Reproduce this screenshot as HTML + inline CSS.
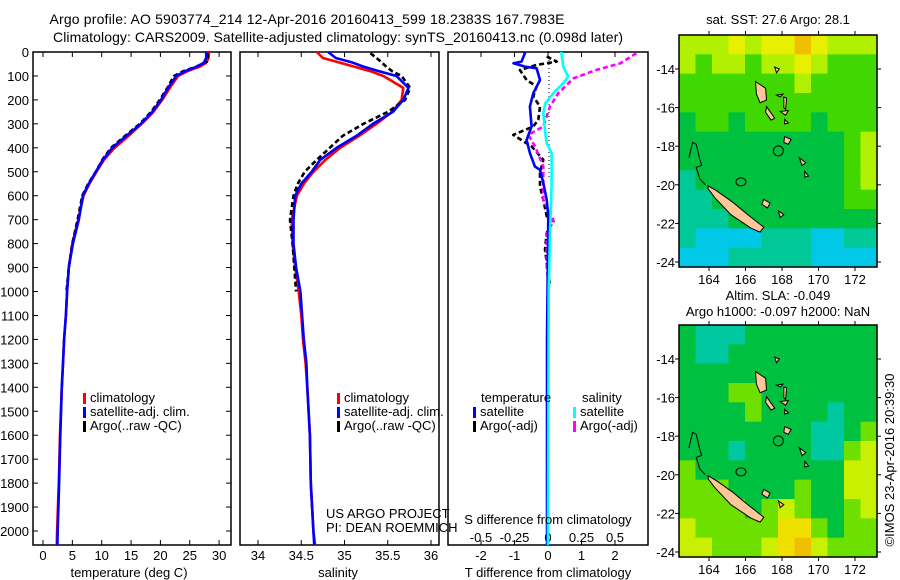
<!DOCTYPE html>
<html><head><meta charset="utf-8"><style>
html,body{margin:0;padding:0;background:#fff;}
svg{display:block;font-family:"Liberation Sans",sans-serif;}
</style></head><body>
<svg id="fig" width="900" height="580" viewBox="0 0 900 580" xmlns="http://www.w3.org/2000/svg">
<text x="307" y="24" font-size="14" text-anchor="middle" textLength="515">Argo profile: AO 5903774_214 12-Apr-2016 20160413_599 18.2383S 167.7983E</text>
<text x="338" y="42" font-size="14" text-anchor="middle" textLength="570">Climatology: CARS2009. Satellite-adjusted climatology: synTS_20160413.nc (0.098d later)</text>
<g id="g1"></g>
<g id="g2"></g>
<g id="g3"></g>
<g id="m1"></g>
<g id="m2"></g>
<text transform="translate(894,460) rotate(-90)" font-size="13" text-anchor="middle">©IMOS 23-Apr-2016 20:39:30</text>
</svg>
<script>
// ---- data ----
const tDepth=[0,25,45,60,80,100,150,200,250,300,350,400,450,500,550,600,700,800,900,1000,1100,1200,1300,1400,1600,1800,2000,2058];
const tClim=[28.3,28.2,27.8,26.8,24.6,23.0,21.6,20.3,18.8,16.8,14.6,12.2,10.4,9.1,7.9,6.9,6.0,5.0,4.4,4.1,3.9,3.6,3.4,3.2,2.9,2.7,2.4,2.35];
const tSat=[27.8,27.8,27.4,26.3,24.2,22.7,21.3,20.1,18.6,16.7,14.2,11.8,10.2,9.0,7.8,6.8,6.1,5.1,4.4,4.1,3.9,3.6,3.4,3.2,2.95,2.75,2.5,2.45];
const argoDepth=[5,25,40,60,80,100,150,200,250,300,350,400,450,500,550,600,700,800,900,1000];
const argoT=[28.0,28.1,27.9,26.2,23.9,22.3,21.2,19.9,18.4,16.5,14.0,11.6,10.1,9.0,7.7,6.7,5.9,5.0,4.4,4.0];
const sClim=[34.68,34.75,34.95,35.1,35.3,35.45,35.68,35.66,35.55,35.37,35.17,34.95,34.78,34.64,34.53,34.45,34.39,34.40,34.43,34.47,34.50,34.52,34.55,34.57,34.60,34.61,34.64,34.66];
const sSat=[34.81,34.9,35.1,35.21,35.4,35.6,35.74,35.68,35.56,35.33,35.14,34.91,34.72,34.62,34.5,34.43,34.41,34.41,34.44,34.49,34.51,34.53,34.56,34.57,34.60,34.61,34.64,34.65];
const argoS=[35.3,35.37,35.42,35.48,35.55,35.66,35.76,35.7,35.5,35.22,34.98,34.83,34.68,34.54,34.46,34.41,34.37,34.40,34.42,34.44];
const dTSatDepth=[0,5,40,47,61,68,117,172,228,311,367,422,478,492,547,617,686,800,1200,1600,2058];
const dTSat=[-0.72,-0.69,-0.79,-1.03,-0.69,-0.34,-0.24,-0.44,-0.54,-0.49,-0.64,-0.54,-0.39,-0.24,-0.14,-0.04,0.01,0.0,-0.03,-0.03,-0.03];
const dSSatDepth=[0,5,61,103,130,172,214,255,339,380,422,561,755,1000,1500,2058];
const dSSat=[0.10,0.10,0.114,0.15,0.114,0.04,-0.02,-0.035,-0.02,-0.01,0.027,0.027,0.015,0.005,0.002,0.0];
const dTArgoDepth=[19,40,54,75,117,144,186,228,283,311,346,394,450,505,561,617,686,707,755,825,978];
const dTArgo=[-0.04,0.26,-0.34,-0.84,-0.64,-0.34,-0.44,-0.24,-0.29,-0.44,-1.04,-0.49,-0.14,-0.24,-0.24,-0.14,-0.04,0.16,-0.04,-0.09,0.06];
const dSArgoDepth=[5,47,75,110,172,228,311,346,394,478,617,700,755,894,964];
const dSArgo=[0.66,0.54,0.36,0.19,0.077,0.015,-0.035,-0.147,-0.097,-0.035,-0.035,0.04,-0.01,-0.01,0.002];
const depthTicks=[0,100,200,300,400,500,600,700,800,900,1000,1100,1200,1300,1400,1500,1600,1700,1800,1900,2000];
const tTicks=[0,5,10,15,20,25,30];
const sTicks=[34,34.5,35,35.5,36];
const dTTicks=[-2,-1,0,1,2];
const dSTicks=[-0.5,-0.25,0,0.25,0.5];
const dSTickLabels=["-0.5","-0.25","0","0.25","0.5"];
const lonTicks=[164,166,168,170,172];
const latTicks=[14,16,18,20,22,24];
const sstGrid=["777878898777","767767787666","666666676666","666666666666","566566665666","555555555567","555555555567","455555555567","445555555566","444555555555","433334443344","333444443333"];
const slaGrid=["544455555555","544555555555","555555555555","555665555555","555565555455","555555554456","555455554467","655555555577","666555565577","666656765567","766666886566","776667897666"];
// ---- helpers ----
const NS="http://www.w3.org/2000/svg";
function mk(parent,tag,attrs,txt){const e=document.createElementNS(NS,tag);for(const k in attrs)e.setAttribute(k,attrs[k]);if(txt!==undefined)e.textContent=txt;parent.appendChild(e);return e;}
const yD=d=>52+d*0.2395;
const xT=v=>43+v*5.87;
const xS=v=>258+(v-34)*86.5;
const xDT=v=>548+v*33.5;
const xDS=v=>548+v*134;
function pathOf(xs,ds,xf){return xs.map((v,i)=>(i?'L':'M')+xf(v).toFixed(1)+','+yD(ds[i]).toFixed(1)).join('');}
function frame(g,x0,x1,name){
 const r=mk(g,'rect',{x:x0,y:52,width:x1-x0,height:493,fill:'none',stroke:'#000','stroke-width':1.5});
 
}
function line(g,d,color,name,dash){
 const p=mk(g,'path',{d:d,fill:'none',stroke:color,'stroke-width':2.6,'stroke-linejoin':'round'});
 if(dash)p.setAttribute('stroke-dasharray',dash);
 
}
function legend(g,x,y,color,label,name){
 const r=mk(g,'rect',{x:x,y:y-9,width:3,height:11,fill:color});
 
 const t=mk(g,'text',{x:x+7,y:y,'font-size':13},label);
 
}
// ---- panel 1 ----
const g1=document.getElementById('g1');
frame(g1,33,231,'temperature-plot-frame');
depthTicks.forEach(d=>{const y=yD(d);
 mk(g1,'line',{x1:33,x2:38,y1:y,y2:y,stroke:'#000'});mk(g1,'line',{x1:226,x2:231,y1:y,y2:y,stroke:'#000'});
 const t=mk(g1,'text',{x:29,y:y+5,'font-size':13,'text-anchor':'end'},String(d));
 });
tTicks.forEach(v=>{const x=xT(v);
 mk(g1,'line',{x1:x,x2:x,y1:52,y2:57,stroke:'#000'});mk(g1,'line',{x1:x,x2:x,y1:540,y2:545,stroke:'#000'});
 const t=mk(g1,'text',{x:x,y:560,'font-size':13,'text-anchor':'middle'},String(v));
 });
line(g1,pathOf(tClim,tDepth,xT),'#ff0000','temperature-climatology-line');
line(g1,pathOf(argoT,argoDepth,xT),'#000','temperature-argo-line','5 3');
line(g1,pathOf(tSat,tDepth,xT),'#0000ff','temperature-satellite-line');
legend(g1,83,402,'#ff0000','climatology','legend-climatology');
legend(g1,83,416,'#0000ff','satellite-adj. clim.','legend-satellite');
legend(g1,83,430,'#000','Argo(..raw -QC)','legend-argo');
mk(g1,'text',{x:129,y:577,'font-size':13,'text-anchor':'middle',},'temperature (deg C)');
// ---- panel 2 ----
const g2=document.getElementById('g2');
frame(g2,240,439,'salinity-plot-frame');
sTicks.forEach(v=>{const x=xS(v);
 mk(g2,'line',{x1:x,x2:x,y1:52,y2:57,stroke:'#000'});mk(g2,'line',{x1:x,x2:x,y1:540,y2:545,stroke:'#000'});
 const t=mk(g2,'text',{x:x,y:560,'font-size':13,'text-anchor':'middle'},String(v));
 });
line(g2,pathOf(sClim,tDepth,xS),'#ff0000','salinity-climatology-line');
line(g2,pathOf(argoS,argoDepth,xS),'#000','salinity-argo-line','5 3');
line(g2,pathOf(sSat,tDepth,xS),'#0000ff','salinity-satellite-line');
legend(g2,337,402,'#ff0000','climatology','legend-climatology-2');
legend(g2,337,416,'#0000ff','satellite-adj. clim.','legend-satellite-2');
legend(g2,337,430,'#000','Argo(..raw -QC)','legend-argo-2');
mk(g2,'text',{x:326,y:518,'font-size':13,},'US ARGO PROJECT');
mk(g2,'text',{x:326,y:532,'font-size':13,},'PI: DEAN ROEMMICH');
mk(g2,'text',{x:338,y:577,'font-size':13,'text-anchor':'middle',},'salinity');
// ---- panel 3 ----
const g3=document.getElementById('g3');
frame(g3,448,648,'difference-plot-frame');
dTTicks.forEach(v=>{const x=xDT(v);
 mk(g3,'line',{x1:x,x2:x,y1:52,y2:57,stroke:'#000'});mk(g3,'line',{x1:x,x2:x,y1:540,y2:545,stroke:'#000'});
 const t=mk(g3,'text',{x:x,y:560,'font-size':13,'text-anchor':'middle'},String(v));
 });
dSTicks.forEach((v,i)=>{const x=xDS(v);
 const t=mk(g3,'text',{x:x,y:542,'font-size':13,'text-anchor':'middle'},dSTickLabels[i]);
 });
mk(g3,'line',{x1:549,x2:549,y1:52,y2:177,stroke:'#000','stroke-dasharray':'1 3',});
line(g3,pathOf(dTArgo,dTArgoDepth,xDT),'#000','t-difference-argo-line','5 3');
line(g3,pathOf(dSArgo,dSArgoDepth,xDS),'#ff00ff','s-difference-argo-line','5 3');
line(g3,pathOf(dTSat,dTSatDepth,xDT),'#0000ff','t-difference-satellite-line');
line(g3,pathOf(dSSat,dSSatDepth,xDS),'#00ffff','s-difference-satellite-line');
mk(g3,'text',{x:481,y:402,'font-size':13,},'temperature');
mk(g3,'text',{x:582,y:402,'font-size':13,},'salinity');
legend(g3,473,416,'#0000ff','satellite','legend-t-satellite');
legend(g3,473,430,'#000','Argo(-adj)','legend-t-argo');
legend(g3,573,416,'#00ffff','satellite','legend-s-satellite');
legend(g3,573,430,'#ff00ff','Argo(-adj)','legend-s-argo');
mk(g3,'text',{x:548,y:524,'font-size':13,'text-anchor':'middle',},'S difference from climatology');
mk(g3,'text',{x:548,y:577,'font-size':13,'text-anchor':'middle',},'T difference from climatology');
// ---- maps ----
const palette={2:'#1e8cff',3:'#00c8e6',4:'#00c896',5:'#00c040',6:'#40d800',7:'#b0f000',8:'#e6f000',9:'#f0c000'};
const palette2={4:'#00c8a0',5:'#00c040',6:'#6ee000',7:'#c8f000',8:'#f0e000',9:'#f0c000'};
const islands=[
 {name:'new-caledonia',pts:[[163.95,20.05],[164.4,20.3],[165.3,20.9],[166.2,21.6],[167.0,22.2],[166.8,22.45],[166.3,22.25],[165.2,21.55],[164.3,20.65],[163.95,20.2]]},
 {name:'espiritu-santo',pts:[[166.55,14.65],[167.1,15.0],[167.15,15.6],[166.8,15.75],[166.6,15.3]]},
 {name:'malekula',pts:[[167.15,15.95],[167.6,16.55],[167.4,16.65],[167.1,16.25]]},
 {name:'efate',pts:[[168.15,17.5],[168.5,17.65],[168.35,17.9],[168.1,17.8]]},
 {name:'erromango',pts:[[168.95,18.6],[169.3,18.85],[169.1,19.0]]},
 {name:'tanna',pts:[[169.25,19.3],[169.45,19.55],[169.25,19.6]]},
 {name:'lifou',pts:[[167.0,20.75],[167.35,20.95],[167.2,21.2],[166.9,21.0]]},
 {name:'mare',pts:[[167.8,21.35],[168.1,21.55],[167.9,21.7]]},
 {name:'ambae',pts:[[167.7,15.35],[168.05,15.3],[167.9,15.45]]},
 {name:'pentecost',pts:[[168.1,15.45],[168.25,15.5],[168.2,16.1],[168.1,16.0]]},
 {name:'ambrym',pts:[[167.9,16.2],[168.35,16.15],[168.2,16.4]]},
 {name:'epi',pts:[[168.15,16.6],[168.35,16.8],[168.15,16.85]]},
 {name:'maewo',pts:[[167.6,13.9],[167.85,14.0],[167.7,14.2]]}
];
const reef=[[162.9,18.6],[163.1,17.8],[163.3,17.9],[163.5,18.7],[163.6,19.0],[163.3,19.1],[163.5,19.7],[163.8,20.0]];
function drawMap(id,top,grid,pal,title1,title2){
 const g=document.getElementById(id);
 const L=679,R=877,B=top+232;
 const lonX=v=>709+(v-164)*18.25;
 const latY=v=>top+34+(v-14)*19.3;
 const rows=grid.length,cols=grid[0].length,cw=(R-L)/cols,ch=(B-top)/rows;
 grid.forEach((row,r)=>{for(let c=0;c<cols;c++){
  const cell=mk(g,'rect',{x:(L+c*cw).toFixed(2),y:(top+r*ch).toFixed(2),width:(cw+0.6).toFixed(2),height:(ch+0.6).toFixed(2),fill:pal[row[c]]});
  
  
 }});
 const rf=mk(g,'polyline',{points:reef.map(p=>lonX(p[0])+','+latY(p[1])).join(' '),fill:'none',stroke:'#000','stroke-width':1});
 
 islands.forEach(is=>{const p=mk(g,'polygon',{points:is.pts.map(q=>lonX(q[0]).toFixed(1)+','+latY(q[1]).toFixed(1)).join(' '),fill:'#ffc896',stroke:'#000','stroke-width':1});
  });
 const o=mk(g,'ellipse',{cx:lonX(165.75),cy:latY(19.85),rx:5,ry:4,fill:'none',stroke:'#000'});
 
 const c=mk(g,'circle',{cx:lonX(167.8),cy:latY(18.24),r:5,fill:'none',stroke:'#000','stroke-width':1});
 
 const fr=mk(g,'rect',{x:L,y:top,width:R-L,height:B-top,fill:'none',stroke:'#000','stroke-width':1.5});
 
 lonTicks.forEach(v=>{const x=lonX(v);
  mk(g,'line',{x1:x,x2:x,y1:top-4,y2:top,stroke:'#000'});mk(g,'line',{x1:x,x2:x,y1:B,y2:B+4,stroke:'#000'});
  const t=mk(g,'text',{x:x,y:B+17,'font-size':13,'text-anchor':'middle'},String(v));
  });
 latTicks.forEach(v=>{const y=latY(v);
  mk(g,'line',{x1:L-4,x2:L,y1:y,y2:y,stroke:'#000'});mk(g,'line',{x1:R,x2:R+4,y1:y,y2:y,stroke:'#000'});
  const t=mk(g,'text',{x:675,y:y+5,'font-size':13,'text-anchor':'end'},'-'+v);
  });
 const t1=mk(g,'text',{x:778,y:title2?top-25:top-11,'font-size':13,'text-anchor':'middle'},title1);
 
 if(title2){const t2=mk(g,'text',{x:778,y:top-9,'font-size':13,'text-anchor':'middle'},title2);
  }
}
drawMap('m1',35,sstGrid,palette,'sat. SST: 27.6 Argo: 28.1');
drawMap('m2',325,slaGrid,palette2,'Altim. SLA: -0.049','Argo h1000: -0.097 h2000: NaN');
</script>
</body></html>
